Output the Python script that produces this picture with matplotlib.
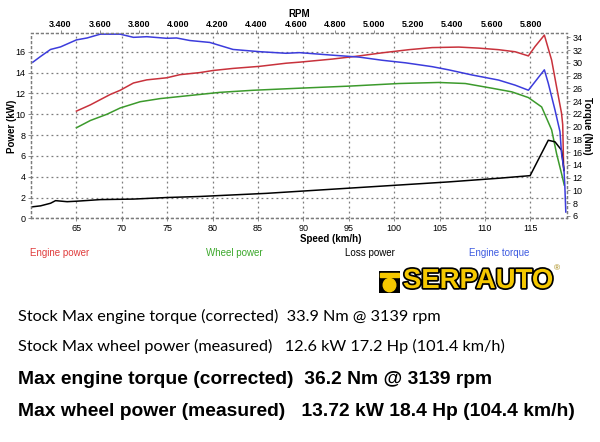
import numpy as np
import matplotlib
matplotlib.use("Agg")
import matplotlib.pyplot as plt
import matplotlib.patheffects as pe
from matplotlib.patches import Circle, Rectangle

# data
torque_speed = [60.2, 61.05, 62.15, 63.25, 65.0, 66.17, 67.63, 68.73, 69.82, 71.28, 72.75,
                74.95, 76.04, 77.5, 79.69, 82.25, 85.18, 88.1, 89.56, 93.21, 96.14, 98.7,
                101.26, 104.18, 106.0, 108.56, 111.49, 113.32, 114.78, 115.88, 116.54,
                116.97, 117.71, 118.26, 118.43, 118.7, 118.8, 118.9]
engine_torque = [30.1, 31.0, 32.1, 32.5, 33.6, 33.9, 34.5, 34.5, 34.5, 34.0, 34.1,
                 33.85, 33.9, 33.5, 33.2, 32.1, 31.75, 31.5, 31.6, 31.2, 30.9, 30.4,
                 30.0, 29.4, 28.9, 28.1, 27.3, 26.5, 25.7, 27.7, 28.9,
                 26.8, 22.6, 19.2, 15.8, 13.2, 10.5, 6.6]

engine_speed = [65.0, 66.54, 67.63, 68.73, 69.82, 71.28, 72.75, 74.95, 76.4, 78.6, 80.05,
                82.25, 85.18, 88.1, 89.56, 93.21, 96.14, 98.7, 101.62, 104.18, 107.1,
                109.3, 111.49, 113.32, 114.78, 115.51, 116.54, 117.34, 117.89, 118.43,
                118.56, 118.67]
engine_power = [10.3, 10.9, 11.4, 11.9, 12.3, 13.0, 13.3, 13.5, 13.8, 14.0, 14.2,
                14.4, 14.6, 14.9, 15.0, 15.3, 15.6, 15.9, 16.2, 16.4, 16.45,
                16.35, 16.2, 16.0, 15.6, 16.5, 17.6, 15.2, 12.6, 10.1,
                9.0, 4.6]

wheel_speed = [65.0, 66.54, 68.37, 69.82, 72.02, 74.21, 76.4, 78.6, 80.79, 84.44, 89.56,
               95.04, 100.53, 104.91, 107.84, 110.76, 112.95, 114.78, 116.24, 117.34,
               117.89, 118.43, 118.73]
wheel_power = [8.7, 9.4, 10.0, 10.6, 11.2, 11.5, 11.7, 11.9, 12.1, 12.3, 12.5,
               12.7, 12.95, 13.05, 12.95, 12.5, 12.15, 11.6, 10.7, 8.5,
               6.2, 4.3, 3.2]

loss_speed = [60.07, 61.05, 62.15, 62.7, 63.98, 65.08, 67.63, 71.28, 74.95, 78.6, 82.25,
              85.91, 89.56, 95.04, 100.53, 106.0, 111.49, 114.97, 116.97, 117.71,
              118.43, 118.7]
loss_power = [1.1, 1.2, 1.45, 1.7, 1.6, 1.65, 1.8, 1.85, 2.0, 2.1, 2.25,
              2.4, 2.6, 2.9, 3.2, 3.5, 3.85, 4.1, 7.5, 7.35,
              6.55, 4.6]

rpm_ticks = list(range(3400, 6000, 200))
legend_names = ["Engine power", "Wheel power", "Loss power", "Engine torque"]
summary_lines = [
    "Stock Max engine torque (corrected)  33.9 Nm @ 3139 rpm",
    "Stock Max wheel power (measured)   12.6 kW 17.2 Hp (101.4 km/h)",
    "Max engine torque (corrected)  36.2 Nm @ 3139 rpm",
    "Max wheel power (measured)   13.72 kW 18.4 Hp (104.4 km/h)",
]

RED = "#c8323c"
GREEN = "#3c9a2c"
BLUE = "#3c3cdc"
GRID = "#7c7c7c"

# speed <-> rpm (linear in the gear used on the dyno)
def speed_to_rpm(s):
    return 3400 + 46.34 * (np.asarray(s) - 63.25)

def rpm_to_speed(r):
    return 63.25 + (np.asarray(r) - 3400) / 46.34


plt.rcParams["font.family"] = ["Liberation Sans", "DejaVu Sans"]

fig = plt.figure(figsize=(6, 4.42), dpi=100)
ax = fig.add_axes([0.0517, 0.506, 0.8928, 0.4186])
ax2 = ax.twinx()

ax.plot(engine_speed, engine_power, color=RED, lw=1.1)
ax.plot(wheel_speed, wheel_power, color=GREEN, lw=1.1)
ax.plot(loss_speed, loss_power, color="black", lw=1.1)
ax2.plot(torque_speed, engine_torque, color=BLUE, lw=1.1)

ax.set_xlim(60, 119)
ax.set_ylim(0, 17.77)
ax2.set_ylim(5.6, 34.63)

ax.set_xticks(range(65, 120, 5))
ax.set_yticks(range(0, 17, 2))
ax2.set_yticks(range(6, 35, 2))
ax.grid(True, color=GRID, ls=(0, (1.5, 2.5)), lw=0.9)

for a in (ax, ax2):
    for sp in a.spines.values():
        sp.set_linestyle((0, (1.5, 2.5)))
        sp.set_color(GRID)
        sp.set_linewidth(0.9)
    a.tick_params(length=2, width=0.6, color=GRID, labelsize=6.5, pad=2)
ax.set_xlabel("Speed (km/h)", fontsize=7, fontweight="bold", labelpad=1, x=0.56)
ax.set_ylabel("Power (kW)", fontsize=7, fontweight="bold", labelpad=-1)
ax2.set_ylabel("Torque (Nm)", fontsize=7, fontweight="bold", rotation=270, labelpad=7)

top = ax.secondary_xaxis("top", functions=(speed_to_rpm, rpm_to_speed))
top.set_xticks(rpm_ticks)
top.set_xticklabels([f"{r / 1000:.3f}" for r in rpm_ticks], fontweight="bold")
top.tick_params(length=2, width=0.6, color=GRID, labelsize=6.5, pad=1)
top.spines["top"].set_visible(False)
top.set_xlabel("RPM", fontsize=7, fontweight="bold", labelpad=2)

# legend row under the chart
for name, col, xc in zip(legend_names, ["#e03c3c", "#3ca82c", "black", "#3c5ae0"],
                         [60, 234, 370, 499]):
    fig.text(xc / 600, 1 - 253 / 442, name, color=col, fontsize=7, ha="center", va="center")

# logo
icon = fig.add_axes([379 / 600, 1 - 293 / 442, 21 / 600, 22 / 442])
icon.set_xlim(0, 1)
icon.set_ylim(0, 1)
icon.axis("off")
icon.add_patch(Rectangle((0, 0), 1, 1, color="black"))
icon.add_patch(Rectangle((0.06, 0.72), 0.88, 0.2, color="#f5c800"))
icon.add_patch(Circle((0.5, 0.36), 0.3, color="#f5c800"))
fig.text(403 / 600, 1 - 281 / 442, "SERPAUTO", fontsize=19.8, fontweight="bold",
         color="#f5c800", ha="left", va="center",
         path_effects=[pe.withStroke(linewidth=2.5, foreground="black")])
fig.text(557 / 600, 1 - 269 / 442, "®", fontsize=6, color="#a08000", ha="center", va="center")

# summary text
for i, (line, y) in enumerate(zip(summary_lines, [316, 346, 379, 411])):
    if i < 2:
        fig.text(18 / 600, 1 - y / 442, line, fontsize=11.7, family="Lato",
                 ha="left", va="center")
    else:
        fig.text(18 / 600, 1 - y / 442, line, fontsize=13.9, fontweight="bold",
                 ha="left", va="center")

fig.savefig("out.png", dpi=100)
